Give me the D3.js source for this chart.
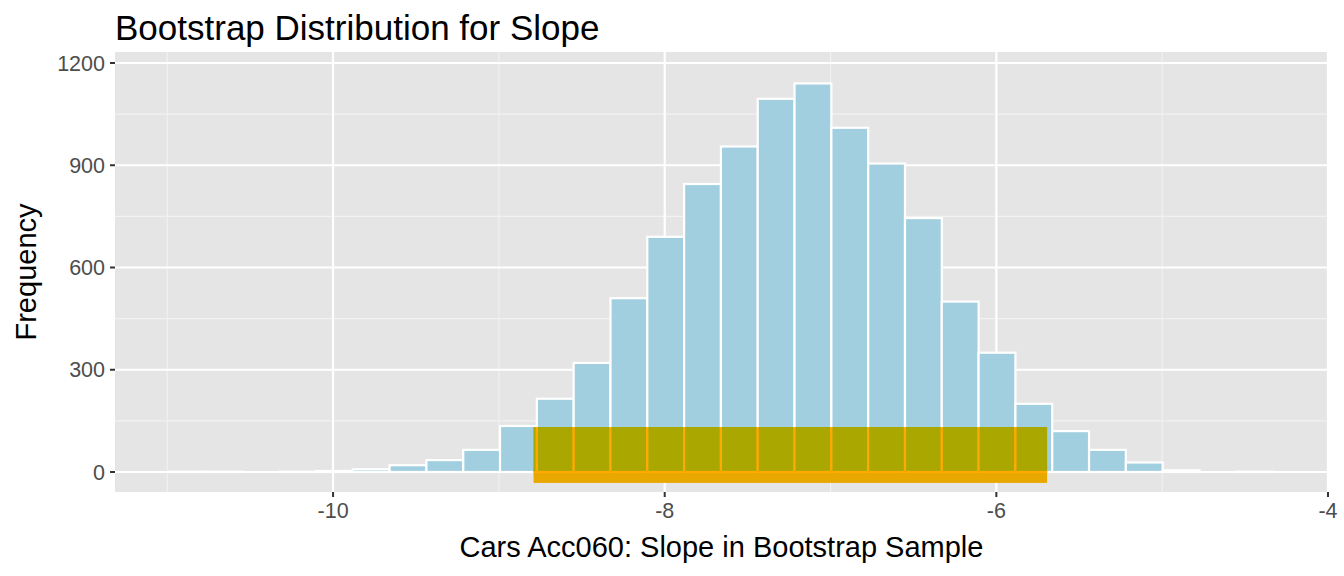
<!DOCTYPE html><html><head><meta charset="utf-8">
<script src="https://cdn.jsdelivr.net/npm/d3@7"></script>
<style>body{margin:0;background:#fff}text{font-family:Arial,"Liberation Sans",sans-serif}</style></head><body>
<svg id="c" width="1344" height="576"></svg>
<script>
const binStart = -10.991, binWidth = 0.222;
const counts = [1,1,0,1,3,8,20,35,65,135,215,320,510,690,845,955,1095,1140,1010,905,745,500,350,200,120,65,28,5,0,1];
const ciLow = -8.791, ciHigh = -5.694, ciTop = 132, ciBottom = -32;
const xTicks = [-10,-8,-6,-4], yTicks = [0,300,600,900,1200];
const bins = counts.map((c,i)=>({x0:binStart+i*binWidth,x1:binStart+(i+1)*binWidth,c}));
const svg = d3.select("#c");
const L=115,R=1328,T=52,B=492;
const x = d3.scaleLinear().domain([-11.315,-4]).range([L,R]);
const y = d3.scaleLinear().domain([0,1200]).range([472,63]);
svg.append("rect").attr("x",L).attr("y",T).attr("width",R-L).attr("height",B-T).attr("fill","#e5e5e5");
const g=svg.append("g");
[-11,-9,-7,-5].forEach(v=>g.append("line").attr("x1",x(v)).attr("x2",x(v)).attr("y1",T).attr("y2",B).attr("stroke","#f2f2f2").attr("stroke-width",1.1));
[150,450,750,1050].forEach(v=>g.append("line").attr("y1",y(v)).attr("y2",y(v)).attr("x1",L).attr("x2",R).attr("stroke","#f2f2f2").attr("stroke-width",1.1));
xTicks.forEach(v=>g.append("line").attr("x1",x(v)).attr("x2",x(v)).attr("y1",T).attr("y2",B).attr("stroke","#fff").attr("stroke-width",2.2));
yTicks.forEach(v=>g.append("line").attr("y1",y(v)).attr("y2",y(v)).attr("x1",L).attr("x2",R).attr("stroke","#fff").attr("stroke-width",2.2));
function drawBars(sel,fill,stroke){
  sel.selectAll("rect.b").data(bins).join("rect").attr("class","b")
   .attr("x",d=>x(d.x0)).attr("width",d=>x(d.x1)-x(d.x0))
   .attr("y",d=>y(d.c)).attr("height",d=>y(0)-y(d.c))
   .attr("fill",fill).attr("stroke",stroke).attr("stroke-width",2.2);
}
drawBars(svg.append("g"),"#a2cfe0","#fff");
svg.append("defs").append("clipPath").attr("id","ci").append("rect")
  .attr("x",x(ciLow)).attr("width",x(ciHigh)-x(ciLow)).attr("y",y(ciTop)).attr("height",y(ciBottom)-y(ciTop));
svg.append("rect").attr("x",x(ciLow)).attr("width",x(ciHigh)-x(ciLow)).attr("y",y(ciTop)).attr("height",y(ciBottom)-y(ciTop)).attr("fill","#e8a800");
drawBars(svg.append("g").attr("clip-path","url(#ci)"),"#aaa800","#ffaa00");
const xa=svg.append("g");
xTicks.forEach(v=>{xa.append("line").attr("x1",x(v)).attr("x2",x(v)).attr("y1",B).attr("y2",B+5).attr("stroke","#333").attr("stroke-width",2);
 xa.append("text").attr("x",x(v)).attr("y",B+26).attr("text-anchor","middle").attr("font-size",21.5).attr("fill","#4d4d4d").text(d3.format("")(v).replace("−","-"));});
yTicks.forEach(v=>{xa.append("line").attr("x1",L-5).attr("x2",L).attr("y1",y(v)).attr("y2",y(v)).attr("stroke","#333").attr("stroke-width",2);
 xa.append("text").attr("x",L-10).attr("y",y(v)+7.5).attr("text-anchor","end").attr("font-size",21.5).attr("fill","#4d4d4d").text(v);});
svg.append("text").attr("x",(L+R)/2).attr("y",557).attr("text-anchor","middle").attr("font-size",29).text("Cars Acc060: Slope in Bootstrap Sample");
svg.append("text").attr("transform",`translate(36,${(T+B)/2}) rotate(-90)`).attr("text-anchor","middle").attr("font-size",29).text("Frequency");
svg.append("text").attr("x",L).attr("y",40).attr("font-size",35).text("Bootstrap Distribution for Slope");
</script></body></html>
